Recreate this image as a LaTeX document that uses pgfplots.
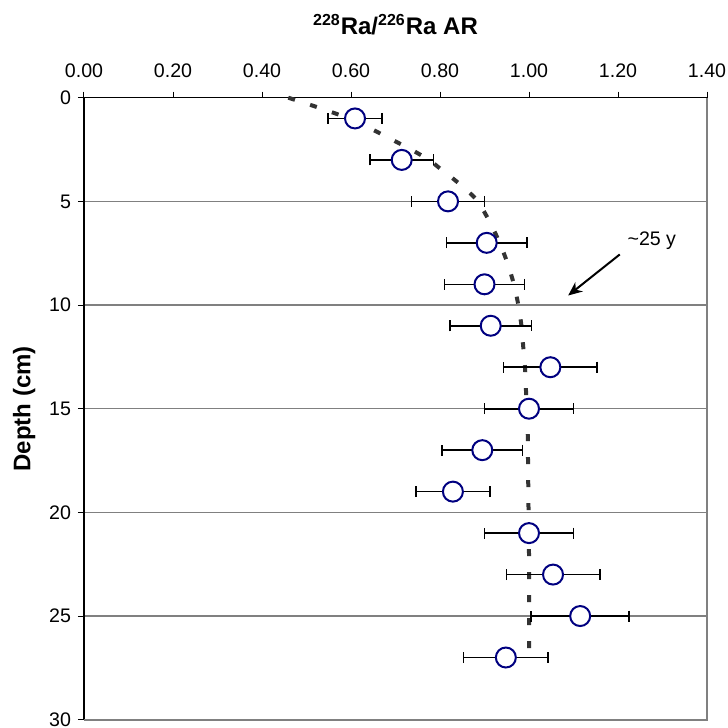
\documentclass[border=0pt]{standalone}
\usepackage{fontspec}
\setmainfont{Liberation Sans}
\usepackage{pgfplots}
\pgfplotsset{compat=1.18}
\usetikzlibrary{arrows.meta}

\definecolor{markblue}{HTML}{000080}
\definecolor{curvegray}{HTML}{333333}

\begin{document}
\begin{tikzpicture}
\begin{axis}[
    name=ax,
    scale only axis,
    width=311.5pt, height=311pt,
    xmin=0, xmax=1.4, ymin=0, ymax=30,
    y dir=reverse,
    axis x line*=top, axis y line*=left,
    axis line style={-, black, line width=0.6pt},
    tick align=outside,
    major tick length=3pt,
    tick style={black, line width=0.5pt},
    xtick={0,0.2,...,1.4},
    ytick={0,5,...,30},
    /pgf/number format/assume math mode=true,
    ticklabel style={font=\fontsize{9.8}{11}\selectfont},
    xticklabel style={yshift=3.5pt, /pgf/number format/.cd, fixed, fixed zerofill, precision=2},
    ymajorgrids,
    grid style={gray, line width=0.6pt},
    title={\textbf{\textsuperscript{228}Ra/\textsuperscript{226}Ra AR}},
    title style={font=\fontsize{12}{14}\selectfont, at={(0.5,1)}, anchor=center, yshift=30.5pt},
    ylabel={\textbf{Depth (cm)}},
    ylabel style={font=\fontsize{12}{14}\selectfont},
    clip=false,
]
% dashed model curve
\addplot[curvegray, line width=2pt, dash pattern=on 3.5pt off 8pt, smooth] coordinates {
  (0.459,0) (0.53,0.5) (0.595,1) (0.645,1.5) (0.69,2) (0.735,2.5) (0.775,3)
  (0.805,3.5) (0.835,4) (0.862,4.5) (0.885,5) (0.912,6) (0.934,7) (0.952,8)
  (0.966,9) (0.976,10) (0.983,11) (0.987,12) (0.991,13) (0.993,14) (0.995,15)
  (0.997,16) (0.998,18) (0.999,20) (1.0,22) (1.0,25) (1.0,27)
};
% measured ratios with errors
\addplot[
  only marks, mark=*, mark size=5pt,
  mark options={draw=markblue, fill=white, line width=1pt},
  error bars/.cd, x dir=both, x explicit,
  error bar style={black, line width=0.8pt},
  error mark options={black, line width=0.8pt, mark size=2.75pt, rotate=90},
] table[x=x, y=y, x error=ex] {
x      y   ex
0.609  1   0.061
0.714  3   0.071
0.818  5   0.082
0.905  7   0.090
0.900  9   0.090
0.914  11  0.092
1.048  13  0.105
1.000  15  0.100
0.895  17  0.090
0.829  19  0.083
1.000  21  0.100
1.054  23  0.105
1.115  25  0.110
0.948  27  0.095
};
\draw[gray, line width=1pt] (axis cs:1.4,0) -- (axis cs:1.4,30) -- (axis cs:0,30);
\node[font=\fontsize{9.8}{11}\selectfont] at (axis cs:1.276,6.92) {\textasciitilde 25 y};
\draw[black, line width=1pt, -{Stealth[length=7pt, width=6pt]}] (axis cs:1.204,7.56) -- (axis cs:1.088,9.54);
\end{axis}
\pgfresetboundingbox
\path[use as bounding box] ([xshift=-42pt, yshift=-4pt]ax.south west) rectangle ([xshift=10.5pt, yshift=48.85pt]ax.north east);
\end{tikzpicture}
\end{document}
